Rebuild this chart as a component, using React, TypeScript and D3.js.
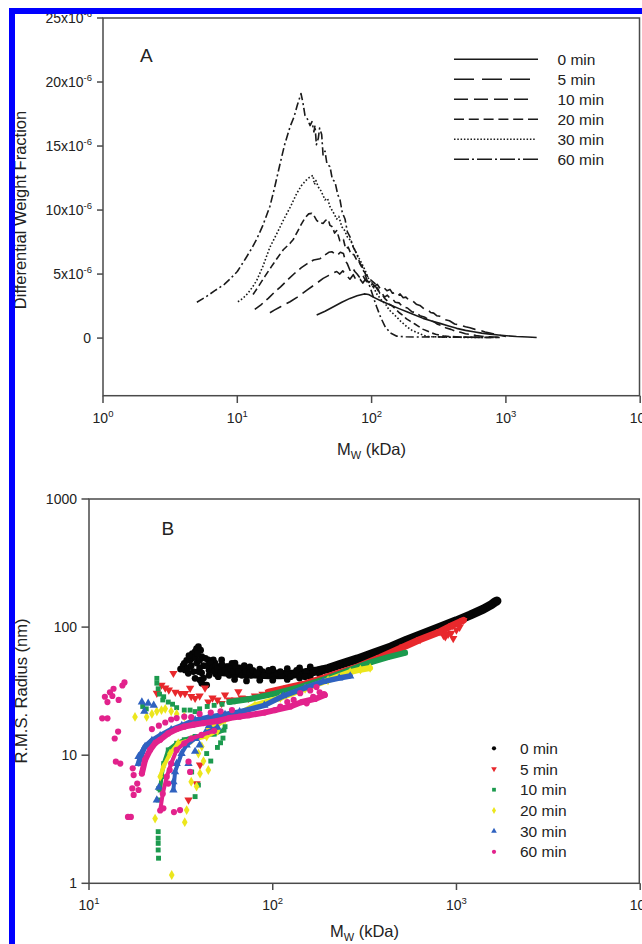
import React from "react";
import * as d3 from "d3";

type P = [number, number];

const FONT = "'Liberation Sans', Arial, Helvetica, sans-serif";
const seriesLabels = ["0 min", "5 min", "10 min", "20 min", "30 min", "60 min"];

// ---------- Panel A : M_W (kDa) vs differential weight fraction (x10^-6) ----------
const a0min: P[] = [[39,1.8],[45,2.1],[52,2.45],[60,2.8],[69,3.1],[78,3.3],[88,3.45],[95,3.4],[103,3.2],[118,2.9],[137,2.6],[160,2.3],[183,2.05],[210,1.8],[242,1.54],[280,1.33],[323,1.15],[375,0.95],[430,0.76],[500,0.6],[574,0.49],[660,0.39],[760,0.31],[880,0.24],[1010,0.18],[1200,0.12],[1450,0.08],[1695,0.05]];
const a5min: P[] = [[17.5,1.98],[19,2.2],[21,2.45],[24.7,2.84],[28,3.2],[33,3.75],[38,4.2],[43.6,4.66],[48,4.9],[52,5.1],[55,5.2],[58,5.0],[61,5.25],[65,4.9],[69,4.6],[73,4.95],[77,4.5],[82,4.6],[86,4.3],[90,4.6],[95,4.2],[100,4.35],[105,4.05],[110,4.2],[116,3.85],[122,4.0],[130,3.7],[137,3.8],[143,3.5],[150,3.55],[157,3.3],[163,3.45],[172,3.15],[180,3.2],[190,2.95],[200,2.95],[215,2.65],[229,2.55],[245,2.3],[260,2.25],[275,2.0],[290,1.95],[305,1.75],[323,1.7],[350,1.45],[380,1.35],[415,1.1],[455,1.02],[500,0.88],[540,0.8],[590,0.68],[640,0.6],[700,0.48],[760,0.4],[830,0.3],[910,0.2],[1000,0.12]];
const a10min: P[] = [[13.5,2.24],[15,2.6],[17,3.1],[19,3.6],[21,4.0],[24,4.6],[27,5.1],[30,5.5],[33,5.8],[37,6.1],[41.3,6.2],[45,6.5],[48,6.7],[50.6,6.74],[53,6.6],[56,6.5],[58.5,6.7],[61.7,6.6],[64,6.0],[66,5.8],[69,5.3],[72,5.5],[75,5.2],[78,5.0],[82,4.7],[86,4.9],[90,4.5],[95,4.4],[100,4.0],[106,4.1],[112,3.7],[118,3.6],[125,3.2],[131,3.35],[137,3.1],[143,3.05],[150,2.8],[160,2.75],[170,2.45],[185,2.35],[200,2.05],[215,2.0],[229,1.75],[250,1.62],[270,1.38],[290,1.28],[310,1.08],[335,0.97],[360,0.78],[390,0.68],[420,0.53],[460,0.46],[500,0.34],[550,0.28],[600,0.2],[680,0.13],[750,0.1],[900,0.06]];
const a20min: P[] = [[13.1,3.4],[14.5,4.1],[16,4.8],[18,5.6],[20,6.3],[22,6.9],[24.7,7.4],[26.1,7.7],[28,8.3],[30,8.9],[32,9.4],[34,9.7],[35.8,9.74],[37.5,9.5],[39,9.2],[41,9.0],[43.6,8.96],[45.5,9.2],[47.6,9.25],[49,8.8],[51,8.7],[53,8.2],[55,8.4],[58,7.6],[61.7,7.7],[64,7.0],[67,7.1],[70,6.6],[74,6.5],[77.4,6.1],[81,5.9],[85,5.6],[90,5.0],[97.3,4.6],[105,4.3],[110,4.0],[115,3.5],[120,3.4],[125,3.1],[131,2.9],[137,2.6],[143,2.5],[150,2.3],[160,2.0],[170,1.8],[182,1.5],[195,1.3],[210,1.1],[225,0.9],[240,0.7],[260,0.55],[280,0.4],[300,0.3],[350,0.15],[450,0.08],[600,0.06],[900,0.05]];
const a30min: P[] = [[10.1,2.84],[11,3.1],[12,3.5],[13,4.0],[13.95,4.5],[15.5,5.6],[17.5,7.1],[20,8.3],[22,9.2],[25,10.3],[27.7,11.3],[30,11.9],[33,12.4],[35,12.6],[36.6,12.7],[37.5,12.0],[38.5,12.3],[40.1,11.8],[42,11.5],[45,10.8],[47,10.9],[49,10.26],[52,9.8],[55,9.3],[57,9.5],[60,8.7],[63,8.4],[66,7.9],[70,7.6],[73.3,7.1],[80,6.3],[86.7,5.6],[92,5.0],[97,4.4],[103,4.0],[110,3.4],[120,2.9],[128,2.6],[135,2.2],[145,1.9],[155,1.6],[165,1.3],[185,0.85],[200,0.6],[216,0.45],[240,0.25],[260,0.12],[330,0.08],[450,0.06],[700,0.05]];
const a60min: P[] = [[5.0,2.8],[5.8,3.2],[6.8,3.7],[8.0,4.2],[8.8,4.6],[10,5.2],[11.5,6.2],[12.8,7.0],[13.9,7.7],[15.5,8.8],[17.5,10.3],[19,11.8],[20.8,13.6],[22.5,15.1],[24.7,16.5],[26.5,17.3],[28,18.2],[29.8,19.1],[30.8,18.4],[31.9,17.4],[33,17.2],[34.8,16.6],[36,16.9],[37.2,16.1],[37.9,16.6],[38.8,15.1],[40.1,15.6],[41,16.4],[42.5,15.9],[43.5,14.3],[45,14.6],[46.5,13.6],[49,13.4],[51,12.4],[53.4,12.2],[56,11.2],[58.2,10.8],[60.5,9.8],[63.4,9.3],[66,8.3],[69.1,7.9],[73,7.1],[77.4,6.6],[82,5.8],[86.7,5.3],[92,4.6],[97.3,4.0],[103,3.2],[109,2.45],[117,1.6],[126,0.9],[138,0.4],[154,0.15],[180,0.1],[229,0.08],[300,0.1],[384,0.06],[500,0.08],[650,0.05],[860,0.05]];

const aYTicks = [0, 5, 10, 15, 20, 25];
const aXTicks = [1, 10, 100, 1000, 10000];

// ---------- Panel B : M_W (kDa) vs R.M.S. radius (nm) ----------
const bBlackBand: P[] = [[52,45],[60,44],[70,43.5],[80,43],[95,42.5],[110,42.5],[130,43],[150,44],[175,45.5],[200,47.5],[232,51],[290,56.5],[353,62.5],[440,70],[536,79],[650,88],[814,100],[1000,112],[1186,124],[1400,138],[1550,150],[1620,157],[1660,160]];
const bBlackPts: P[] = [[31.5,47],[32.5,50],[33.3,46.3],[34,55],[34.7,43.6],[35.5,55.4],[36.2,57.1],[36.5,62],[37.8,64.3],[38.5,68],[39.4,70.3],[40.5,66],[37.8,39.8],[38.6,52.4],[39.5,45],[40.2,38.6],[41.1,36.5],[41.1,58.7],[42.8,35.3],[43.7,35.3],[42,50],[44.6,55.4],[45,46],[46.5,46.3],[47.5,55.4],[48.5,52.4],[49,43],[50.5,41],[51,49],[52.7,55.4],[54,47],[56.2,49.1],[57.3,49.1],[58,42],[60,52],[62.3,52.4],[62.3,42.1],[64,47],[66.4,43.6],[67.8,46.3],[70,50],[73.8,46.3],[76,42],[80.3,43.6],[85.3,41],[88,45],[94.7,43.6],[100,41],[105,44],[112,42.1],[120,44],[132,43.6],[140,42.5],[153,44.9],[170,46],[60,50],[66,48],[75,49],[85,47],[100,47],[120,47.5],[140,48],[160,49],[62,39],[72,38],[85,38.5],[100,38.5],[120,39],[140,40],[160,41],[180,43],[33,52],[34.5,48],[35,60],[36,50],[37,45],[38,58],[39,62],[40,55],[40,48],[41,44],[42,40],[43,57],[44,50],[45,42],[46,52],[47,48],[48,45],[49,50],[50,47],[52,44],[53,51],[55,46],[57,44],[59,47],[61,45],[63,49],[65,45],[68,42],[71,45],[75,44],[78,46],[82,44],[90,42],[95,46],[110,45],[125,41],[135,46],[150,41],[165,44],[185,47]];
const bRedBand: P[] = [[95,31],[120,33.5],[150,36],[200,41],[280,48],[384,58],[514,70],[634,80],[814,92],[950,103],[1090,113]];
const bRedPts: P[] = [[23.4,30.5],[24.8,35.3],[26,33.5],[27.2,32.3],[28.8,43.6],[29.5,31],[31.5,30.4],[33.3,30.4],[35.5,33.3],[36,28.8],[37.8,27.8],[40,29],[42.8,33.5],[44.6,26.1],[47,28],[50,27],[52.7,25.4],[55,29.5],[58,27],[62.3,27],[65,31.3],[67.8,28],[73.8,27.8],[80,29],[88,30],[34.8,4.47],[38.5,6.0],[40.2,8.4],[850,86],[870,84],[900,88],[936,89.6],[960,81.5],[1000,95],[1040,100]];
const bGreenBand: P[] = [[58,26],[75,27.5],[100,30],[140,34],[190,39],[260,46],[340,53],[420,58],[525,63]];
const bGreenBranch: P[] = [[24.4,5.35],[24.8,6.8],[25.5,8.6],[27,11],[30,12.4],[33,13.2],[37.8,14],[48,14.6],[54.3,15.7]];
const bGreenPts: P[] = [[23.4,39.8],[23.4,36.5],[23.8,33],[24.2,30],[25.5,28.6],[25.2,27],[27,26],[28.5,25],[30,23.5],[33,22.5],[35.5,22.5],[37.8,21.9],[40,23],[44,24],[48,24.5],[53,25],[19.6,24],[20.5,23],[23.8,4.47],[24,5.5],[23.8,2.53],[23.8,2.25],[23.8,2.05],[23.8,1.82],[23.9,1.57],[42,14.5],[53.6,13.6],[55,16.7],[37.8,4.75],[39.4,5.85],[36.2,7.4],[43.7,10.3],[46,9],[50,11.5],[52,12.5]];
const bYellowBand: P[] = [[45,16],[55,19],[66,21],[80,24.5],[110,28],[150,33],[200,38.5],[264,44.5],[300,46.5],[339,48]];
const bYellowBranch: P[] = [[24.4,6.8],[25.4,8.1],[27.6,10.3],[30.6,12.4],[36.2,13.2],[43.7,14],[50,15.5]];
const bYellowPts: P[] = [[17.8,19.9],[20.6,19.9],[22,21],[23.4,22],[24.8,22.5],[26,23],[28,22],[30,21],[33,20],[22.9,3.2],[28.2,1.16],[33.2,3.0],[34,3.73],[38.5,5.7],[40.2,7.2],[39.4,10.3],[41.1,11.7],[45,15],[36,6.2],[42,9],[44.6,7.66]];
const bBlueBand: P[] = [[18.6,8.6],[19.2,10],[20.2,11.7],[22,13],[24.4,14.2],[28,15.8],[32,17],[37.8,18.8],[45,19.8],[55,20.8],[66,21.8],[90,24.5],[114,29],[150,33.5],[188,37.5],[230,40],[264,41.5]];
const bBlueBranch: P[] = [[28.8,5.35],[29.4,7.4],[31.9,10.3],[34,12],[38,13.5],[43,15],[50,16.5]];
const bBluePts: P[] = [[19.4,26],[21,25.4],[22.5,24.5],[20,22],[23.4,4.47],[28.8,6.2],[30,8.6],[34.8,8.6],[37.8,10.7],[40,12],[24,5.6],[18.6,9.75],[19.4,10.6],[21.5,12.4],[45,17],[50,18.5]];
const bPinkBand: P[] = [[19.4,7.2],[20.2,9.2],[21.5,11],[23,12.5],[24.4,13.2],[27,14.8],[30,16],[33,16.7],[37,17.3],[42,17.8],[50,18.5],[58,19.5],[66,20],[74,20.5],[90,21.5],[103,22.5],[125,24],[144,26],[170,27.5],[192,29.5]];
const bPinkBranch: P[] = [[24.4,3.7],[25.2,5.0],[26.5,6.8],[28,8.6],[30,11],[33,12.4],[36,13.5],[41,14.4],[48,15.5]];
const bPinkPts: P[] = [[12.2,28.6],[13.0,31],[13.6,33],[15.2,35],[15.6,37],[14.5,27],[13.4,29],[12.6,26],[11.8,19.4],[12.6,19.4],[14.4,15.3],[13.8,13.5],[14.0,8.9],[14.8,8.6],[16.3,3.3],[16.9,3.3],[17.5,4.9],[17.2,5.5],[17.5,7.0],[17.3,7.9],[18.6,5.35],[18.3,6.0],[25.4,3.85],[31.3,3.73],[29,3.6],[27,6.0],[27.5,7.66],[34.8,8.9],[35.5,7.4],[22,16],[24,17],[26,18],[28,19],[30,19.5],[33,20],[36,19.8],[40,21],[46,21.5],[52,22],[60,22.5],[141,30.5],[153,25.4],[166,28.6],[173,34],[160,32],[180,31],[190,30],[130,27],[120,26],[110,24]];

const bYTicks = [1, 10, 100, 1000];
const bXTicks = [10, 100, 1000, 10000];

export default function App() {
  const xA = d3.scaleLog().domain([1, 10000]).range([103, 640.2]);
  const yA = d3.scaleLinear().domain([-4.5, 25]).range([395.7, 18]);
  const xB = d3.scaleLog().domain([10, 10000]).range([89, 640.2]);
  const yB = d3.scaleLog().domain([1, 1000]).range([883.3, 499]);
  const lineA = d3.line<P>().x((d) => xA(d[0])).y((d) => yA(d[1]));
  const lineB = d3.line<P>().x((d) => xB(d[0])).y((d) => yB(d[1]));

  const aSeries = [
    { data: a0min, dash: undefined, ldash: undefined, lend: 538 },
    { data: a5min, dash: "13,6", ldash: "20,8", lend: 530 },
    { data: a10min, dash: "10,5", ldash: "14,6", lend: 534 },
    { data: a20min, dash: "7,3.5", ldash: "10,4.8", lend: 538 },
    { data: a30min, dash: "1.6,2", ldash: "1.5,1.8", lend: 535 },
    { data: a60min, dash: "8,3,2,3", ldash: "15,3,2,3", lend: 538 },
  ];

  const bSeries = [
    { color: "#050505", sym: d3.symbolCircle, rot: 0, size: 36, bands: [bBlackBand], bw: [9], pts: bBlackPts },
    { color: "#e8282c", sym: d3.symbolTriangle, rot: 180, size: 30, bands: [bRedBand], bw: [7], pts: bRedPts },
    { color: "#1c9a4e", sym: d3.symbolSquare, rot: 0, size: 24, bands: [bGreenBand, bGreenBranch], bw: [6, 4], pts: bGreenPts },
    { color: "#ece61c", sym: d3.symbolDiamond, rot: 0, size: 28, bands: [bYellowBand, bYellowBranch], bw: [6, 4], pts: bYellowPts },
    { color: "#2f62c0", sym: d3.symbolTriangle, rot: 0, size: 30, bands: [bBlueBand, bBlueBranch], bw: [5.5, 4], pts: bBluePts },
    { color: "#e2228c", sym: d3.symbolCircle, rot: 0, size: 30, bands: [bPinkBand, bPinkBranch], bw: [6, 4], pts: bPinkPts },
  ];

  const axisColor = "#4a4a4a";
  const txt = "#222";

  return (
    <svg width={642} height={944} style={{ position: "absolute", left: 0, top: 0, background: "#fff" }} fontFamily={FONT}>
      <rect x={0} y={0} width={642} height={944} fill="#fff" />

      {/* ---------------- Panel A ---------------- */}
      <rect x={103} y={18} width={536.5} height={377.7} fill="none" stroke={axisColor} strokeWidth={1.5} />
      {aYTicks.map((t) => (
        <g key={"ay" + t}>
          <line x1={97} x2={103} y1={yA(t)} y2={yA(t)} stroke={axisColor} strokeWidth={1.5} />
          <text x={t === 0 ? 91 : 92} y={yA(t)} dy="0.36em" textAnchor="end" fontSize={14} fill={txt}>
            {t === 0 ? "0" : (
              <>
                {t + "x10"}
                <tspan dy="-6" fontSize={9.5}>-6</tspan>
              </>
            )}
          </text>
        </g>
      ))}
      {aXTicks.map((t, i) => (
        <g key={"ax" + t}>
          <line x1={xA(t)} x2={xA(t)} y1={395.7} y2={403} stroke={axisColor} strokeWidth={1.5} />
          <text x={xA(t)} y={423} textAnchor="middle" fontSize={14} fill={txt}>
            10<tspan dy="-6" fontSize={9.5}>{i}</tspan>
          </text>
        </g>
      ))}
      <text x={371.5} y={455} textAnchor="middle" fontSize={16.5} fill={txt}>
        M<tspan dy="4" fontSize={11}>W</tspan><tspan dy="-4"> (kDa)</tspan>
      </text>
      <text transform="translate(25.5,210) rotate(-90)" textAnchor="middle" fontSize={16.5} fill={txt}>
        Differential Weight Fraction
      </text>
      <text x={140} y={62} fontSize={19} fill={txt}>A</text>

      {aSeries.map((s, i) => (
        <path key={"al" + i} d={lineA(s.data) || ""} fill="none" stroke="#1a1a1a" strokeWidth={1.6}
          strokeDasharray={s.dash} strokeLinejoin="round" />
      ))}
      {aSeries.map((s, i) => {
        const y = 59.3 + i * 20;
        return (
          <g key={"alg" + i}>
            <line x1={454} x2={s.lend} y1={y} y2={y} stroke="#1a1a1a" strokeWidth={1.6} strokeDasharray={s.ldash} />
            <text x={557.5} y={y} dy="0.36em" fontSize={15.5} fill={txt}>{seriesLabels[i]}</text>
          </g>
        );
      })}

      {/* ---------------- Panel B ---------------- */}
      <rect x={89} y={499} width={550.3} height={384.3} fill="none" stroke={axisColor} strokeWidth={1.5} />
      {bYTicks.map((t) => (
        <g key={"by" + t}>
          <line x1={81.5} x2={89} y1={yB(t)} y2={yB(t)} stroke={axisColor} strokeWidth={1.5} />
          <text x={77} y={yB(t)} dy="0.36em" textAnchor="end" fontSize={14} fill={txt}>{String(t)}</text>
        </g>
      ))}
      {bXTicks.map((t, i) => (
        <g key={"bx" + t}>
          <line x1={xB(t)} x2={xB(t)} y1={883.3} y2={890} stroke={axisColor} strokeWidth={1.5} />
          <text x={xB(t)} y={910} textAnchor="middle" fontSize={14} fill={txt}>
            10<tspan dy="-6" fontSize={9.5}>{i + 1}</tspan>
          </text>
        </g>
      ))}
      <text x={364.5} y={937} textAnchor="middle" fontSize={16.5} fill={txt}>
        M<tspan dy="4" fontSize={11}>W</tspan><tspan dy="-4"> (kDa)</tspan>
      </text>
      <text transform="translate(26.5,691) rotate(-90)" textAnchor="middle" fontSize={16.5} fill={txt}>
        R.M.S. Radius (nm)
      </text>
      <text x={161.5} y={535} fontSize={19} fill={txt}>B</text>

      {bSeries.map((s, i) => {
        const sym = d3.symbol().type(s.sym).size(s.size)() || "";
        return (
          <g key={"bs" + i}>
            {s.bands.map((b, j) => (
              <path key={j} d={lineB(b) || ""} fill="none" stroke={s.color} strokeWidth={s.bw[j]}
                strokeLinecap="round" strokeLinejoin="round" />
            ))}
            {[...s.bands.flat(), ...s.pts].map((p, k) => (
              <path key={k} d={sym} fill={s.color}
                transform={`translate(${xB(p[0])},${yB(p[1])}) rotate(${s.rot})`} />
            ))}
          </g>
        );
      })}
      {bSeries.map((s, i) => {
        const y = 748.3 + i * 20.7;
        const sym = d3.symbol().type(s.sym).size(14)() || "";
        return (
          <g key={"blg" + i}>
            <path d={sym} fill={s.color} transform={`translate(494,${y}) rotate(${s.rot})`} />
            <text x={520} y={y} dy="0.36em" fontSize={15.5} fill={txt}>{seriesLabels[i]}</text>
          </g>
        );
      })}

      {/* blue frame of the figure */}
      <rect x={9} y={8} width={633} height={6} fill="#0000ff" />
      <rect x={9} y={8} width={6} height={936} fill="#0000ff" />
    </svg>
  );
}
